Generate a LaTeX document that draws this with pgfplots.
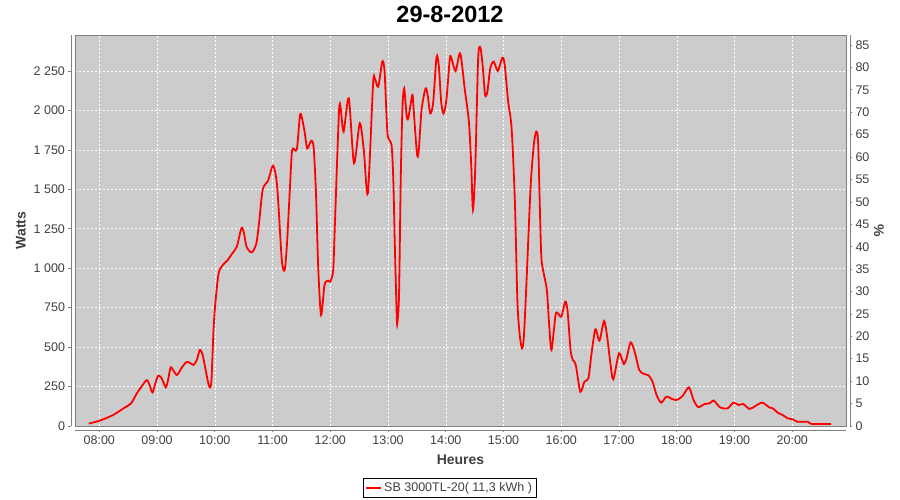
\documentclass[border=0pt]{standalone}
\usepackage{fontspec}
\setmainfont{Liberation Sans}
\usepackage{pgfplots}
\pgfplotsset{compat=1.18}
\definecolor{plotbg}{RGB}{204,204,204}
\definecolor{axgray}{RGB}{128,128,128}
\definecolor{txtgray}{RGB}{64,64,64}
\newcommand{\tickfont}{\fontsize{12.5}{14}\selectfont}
\newcommand{\labfont}{\fontsize{14}{16}\selectfont\bfseries}

\pgfplotsset{
  sideaxis/.style={
    scale only axis,
    tick align=outside,
    axis line style={draw=axgray, line width=0.7pt},
    tick style={draw=axgray, line width=0.7pt},
    ticklabel style={font=\tickfont, text=txtgray},
    /pgf/number format/assume math mode=true,
    /pgf/number format/1000 sep={\ },
    scaled ticks=false,
  }
}

\begin{document}
\begin{tikzpicture}[x=1pt,y=1pt]
\fill[white] (0,0) rectangle (900,500);

% plot area
\begin{axis}[
  at={(75pt,74pt)}, anchor=south west,
  scale only axis, width=771pt, height=391pt,
  xmin=7.579, xmax=20.93, ymin=0, ymax=2478,
  axis background/.style={fill=plotbg},
  axis line style={draw=axgray, line width=0.6pt},
  xtick={8,...,20}, ytick={0,250,...,2250},
  xticklabels={}, yticklabels={}, major tick length=0pt,
  grid=major,
  grid style={white, line width=0.6pt, dash pattern=on 2pt off 2pt},
  legend style={at={(0.486,-0.1586)}, anchor=center, draw=black,
    line width=0.8pt, font=\tickfont, text=txtgray,
    inner xsep=2.5pt, inner ysep=2.6pt},
  legend image code/.code={\draw[red, line width=1.8pt] (0pt,0pt) -- (15pt,0pt);},
]
\addplot[red, line width=1.8pt, smooth, tension=0.45] coordinates {
(7.82,15) (7.92,25) (8.01,34) (8.12,50) (8.24,70) (8.33,90) (8.42,112)
(8.50,130) (8.56,148) (8.65,207) (8.73,249) (8.82,291) (8.87,260)
(8.92,213) (8.97,270) (9.02,319) (9.08,302) (9.15,245) (9.19,290)
(9.24,372) (9.34,323) (9.43,372) (9.51,405) (9.57,400) (9.63,387)
(9.69,420) (9.74,482) (9.79,450) (9.83,376) (9.90,253) (9.94,280)
(9.98,629) (10.02,820) (10.07,975) (10.15,1025) (10.22,1050)
(10.29,1088) (10.38,1136) (10.46,1253) (10.50,1230) (10.55,1136)
(10.64,1100) (10.72,1158) (10.77,1300) (10.83,1500) (10.92,1553)
(11.01,1650) (11.08,1517) (11.16,1052) (11.21,989) (11.25,1158)
(11.30,1500) (11.34,1749) (11.42,1753) (11.48,1977) (11.55,1876)
(11.60,1760) (11.67,1808) (11.71,1770) (11.75,1496) (11.79,1010)
(11.84,703) (11.90,894) (11.96,921) (12.00,915) (12.05,989)
(12.08,1285) (12.15,1992) (12.18,2013) (12.23,1865) (12.32,2077)
(12.41,1665) (12.51,1920) (12.58,1749) (12.65,1475) (12.74,2165)
(12.77,2203) (12.83,2150) (12.90,2309) (12.94,2245) (12.99,1855)
(13.06,1781) (13.09,1570) (13.12,1105) (13.15,703) (13.16,651)
(13.19,830) (13.22,1570) (13.25,2023) (13.28,2140) (13.32,1971)
(13.35,1950) (13.42,2098) (13.44,2023) (13.50,1728) (13.53,1738)
(13.58,2003) (13.65,2140) (13.69,2087) (13.73,1981) (13.78,2045)
(13.84,2340) (13.88,2277) (13.92,2055) (13.96,1981) (14.01,2066)
(14.07,2330) (14.10,2326) (14.17,2250) (14.25,2362) (14.33,2129)
(14.40,1928) (14.44,1654) (14.47,1369) (14.51,1633) (14.56,2330)
(14.60,2397) (14.64,2277) (14.68,2098) (14.72,2119) (14.77,2267)
(14.83,2309) (14.90,2250) (14.98,2334) (15.02,2288) (15.08,2055)
(15.13,1928) (15.16,1749) (15.20,1380) (15.24,788) (15.28,577)
(15.32,492) (15.35,556) (15.39,851) (15.47,1527) (15.53,1802)
(15.57,1865) (15.60,1781) (15.65,1105) (15.69,978) (15.75,862)
(15.79,640) (15.83,482) (15.90,703) (15.94,714) (16.00,693)
(16.07,788) (16.11,724) (16.16,482) (16.20,418) (16.25,387)
(16.33,217) (16.40,281) (16.47,302) (16.52,450) (16.59,613)
(16.66,541) (16.74,665) (16.79,577) (16.85,397) (16.90,296)
(17.00,461) (17.08,393) (17.13,429) (17.20,530) (17.27,471)
(17.35,355) (17.43,330) (17.51,321) (17.58,281) (17.65,196)
(17.73,148) (17.82,186) (17.92,171) (18.00,165) (18.10,190)
(18.21,245) (18.29,165) (18.37,120) (18.48,139) (18.57,144)
(18.64,162) (18.75,118) (18.88,112) (18.98,148) (19.07,133)
(19.15,139) (19.26,108) (19.36,127) (19.48,148) (19.60,118)
(19.66,112) (19.75,84) (19.83,70) (19.92,49) (20.01,42)
(20.09,27) (20.27,27) (20.33,13) (20.67,13)
};
\addlegendentry{SB 3000TL-20( 11,3 kWh )}
\end{axis}

% left axis (Watts)
\begin{axis}[sideaxis,
  at={(71.5pt,74pt)}, anchor=south west, width=10pt, height=391pt,
  xmin=0, xmax=1, ymin=0, ymax=2478,
  axis y line*=left, hide x axis,
  ytick={0,250,...,2250}, major tick length=3pt,
]
\end{axis}

% right axis (%)
\begin{axis}[sideaxis,
  at={(850pt,74pt)}, anchor=south east, width=10pt, height=391pt,
  xmin=0, xmax=1, ymin=0, ymax=87.23,
  axis y line*=right, hide x axis,
  ytick={0,5,...,85}, major tick length=2pt,
]
\end{axis}

% bottom axis (Heures)
\begin{axis}[sideaxis,
  at={(75pt,70pt)}, anchor=south west, width=771pt, height=10pt,
  xmin=7.579, xmax=20.93, ymin=0, ymax=1,
  axis x line*=bottom, hide y axis,
  xtick={8,...,20}, major tick length=2pt,
  xticklabels={08:00,09:00,10:00,11:00,12:00,13:00,14:00,15:00,16:00,17:00,18:00,19:00,20:00},
]
\end{axis}

\node[font=\fontsize{23.5}{26}\selectfont\bfseries] at (450,486) {29-8-2012};
\node[font=\labfont, text=txtgray] at (460.5,40) {Heures};
\node[font=\labfont, text=txtgray, rotate=90] at (21,269.5) {Watts};
\node[font=\labfont, text=txtgray, rotate=-90] at (879,269.5) {\%};
\end{tikzpicture}
\end{document}
